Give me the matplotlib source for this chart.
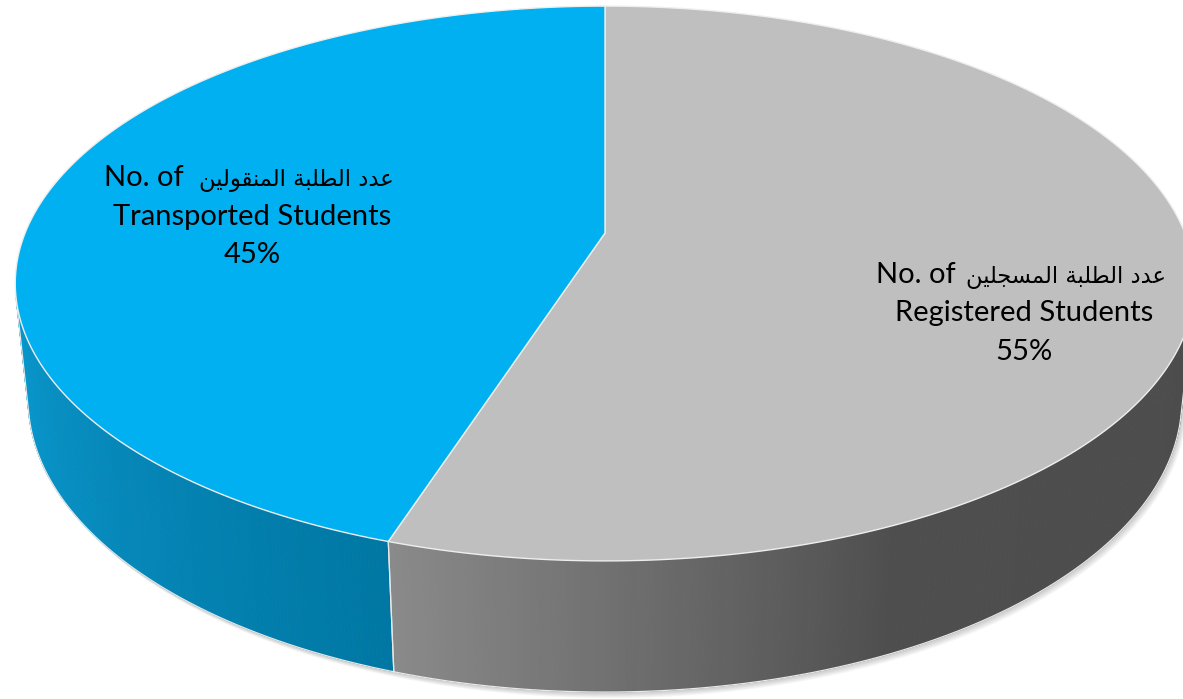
import numpy as np
import matplotlib.pyplot as plt
from matplotlib.collections import PolyCollection
from matplotlib.colors import to_rgb

# data (Excel starts at 12 o'clock and goes clockwise)
categories = ['Registered Students', 'Transported Students']
arabic_names = [['عدد', 'الطلبة', 'المسجلين'], ['عدد', 'الطلبة', 'المنقولين']]
values = [55, 45]
top_colors = ['#BFBFBF', '#00B0F0']
# wall gradient stops, left to right on screen: (fraction, colour)
wall_colors = [[(0.0, '#8A8A8A'), (0.45, '#4E4E4E'), (1.0, '#4C4C4C')],
               [(0.0, '#0A98CE'), (1.0, '#0077A3')]]
# label centre x and first baseline y, in pixels
label_pos = [(1024, 283), (252, 186)]

# presentation forms: isolated, final, initial, medial
FORMS = {
    'ع': ('\uFEC9', '\uFECA', '\uFECB', '\uFECC'),
    'د': ('\uFEA9', '\uFEAA', None, None),
    'ا': ('\uFE8D', '\uFE8E', None, None),
    'ل': ('\uFEDD', '\uFEDE', '\uFEDF', '\uFEE0'),
    'ط': ('\uFEC1', '\uFEC2', '\uFEC3', '\uFEC4'),
    'ب': ('\uFE8F', '\uFE90', '\uFE91', '\uFE92'),
    'ة': ('\uFE93', '\uFE94', None, None),
    'م': ('\uFEE1', '\uFEE2', '\uFEE3', '\uFEE4'),
    'ن': ('\uFEE5', '\uFEE6', '\uFEE7', '\uFEE8'),
    'ق': ('\uFED5', '\uFED6', '\uFED7', '\uFED8'),
    'و': ('\uFEED', '\uFEEE', None, None),
    'ي': ('\uFEF1', '\uFEF2', '\uFEF3', '\uFEF4'),
    'س': ('\uFEB1', '\uFEB2', '\uFEB3', '\uFEB4'),
    'ج': ('\uFE9D', '\uFE9E', '\uFE9F', '\uFEA0'),
}


def shape_word(word):
    """Joins the letters of one arabic word and returns it in visual order."""
    out = []
    for i, ch in enumerate(word):
        prev_joins = i > 0 and FORMS[word[i - 1]][2] is not None
        next_joins = i < len(word) - 1 and FORMS[ch][2] is not None
        if prev_joins and next_joins:
            out.append(FORMS[ch][3])
        elif prev_joins:
            out.append(FORMS[ch][1])
        elif next_joins:
            out.append(FORMS[ch][2])
        else:
            out.append(FORMS[ch][0])
    return ''.join(out)[::-1]


def arabic_line(words):
    return ' '.join(shape_word(w) for w in reversed(words))


# perspective camera (pixel space)
cx, cy = 605, 233
s = np.sin(np.radians(27.55))
c = np.cos(np.radians(27.55))
D = 4.87
f = 2824
H = 0.228


def proj(t, z):
    x, y = np.cos(t), np.sin(t)
    dist = D + y * c - z * s
    return cx + f * x / dist, cy - f * (y * s + z * c) / dist


def center(z):
    dist = D - z * s
    return cx, cy - f * (z * c) / dist


fig = plt.figure(figsize=(11.83, 6.99), dpi=100)
ax = fig.add_axes([0, 0, 1, 1])
ax.set_xlim(0, 1183)
ax.set_ylim(699, 0)
ax.axis('off')

# soft shadow under the pie
tt = np.linspace(0, 2 * np.pi, 400)
bx, by = proj(tt, -H)
for k in range(1, 7):
    ax.fill(bx + 0.8 * k, by + 1.0 * k, color='#000000', alpha=0.035, lw=0,
            zorder=1)

# slice angles, clockwise from 90 degrees
fracs = np.array(values) / sum(values)
starts = np.radians(90) - 2 * np.pi * np.concatenate([[0], np.cumsum(fracs)[:-1]])
ends = starts - 2 * np.pi * fracs

vis_lo = np.pi + np.arcsin(1 / (D * c))
vis_hi = 2 * np.pi - np.arcsin(1 / (D * c))

for i in range(len(values)):
    a0, a1 = ends[i] % (2 * np.pi), starts[i] % (2 * np.pi)
    if a1 <= a0:
        a1 += 2 * np.pi
    # visible part of the outer wall
    w0, w1 = max(a0, vis_lo), min(a1, vis_hi)
    if w1 > w0:
        ts = np.linspace(w0, w1, 160)
        tx, ty = proj(ts, 0)
        lx, ly = proj(ts, -H)
        stops = wall_colors[i]
        pos = [p for p, _ in stops]
        rgb = np.array([to_rgb(col) for _, col in stops])
        polys, cols = [], []
        for j in range(len(ts) - 1):
            polys.append([(tx[j], ty[j]), (tx[j + 1], ty[j + 1]),
                          (lx[j + 1], ly[j + 1]), (lx[j], ly[j])])
            # screen left to right goes with increasing angle here
            u = (ts[j] - w0) / (w1 - w0)
            cols.append([np.interp(u, pos, rgb[:, k]) for k in range(3)])
        ax.add_collection(PolyCollection(polys, facecolors=cols,
                                         edgecolors=cols, linewidths=0.6,
                                         zorder=2))
        ax.plot(lx, ly, color='#E8E8E8', lw=0.9, zorder=3)
        ax.plot([lx[0], tx[0]], [ly[0], ty[0]], color='#E8E8E8', lw=0.9,
                zorder=3)
        ax.plot([lx[-1], tx[-1]], [ly[-1], ty[-1]], color='#E8E8E8', lw=0.9,
                zorder=3)

    # top face
    ts = np.linspace(a0, a1, 300)
    tx, ty = proj(ts, 0)
    px, py = center(0)
    ax.fill(np.concatenate([[px], tx]), np.concatenate([[py], ty]),
            facecolor=top_colors[i], edgecolor='#EEEEEE', lw=1.0, zorder=4)

# labels: english part in Lato, arabic part in DejaVu Sans
for i in range(len(values)):
    lx0, ly0 = label_pos[i]
    ax.text(lx0 - 148, ly0, 'No. of', ha='left', va='baseline',
            fontsize=21, family='Lato', zorder=5)
    ax.text(lx0 + 142, ly0, arabic_line(arabic_names[i]), ha='right',
            va='baseline', fontsize=16.3, family='DejaVu Sans', zorder=5)
    ax.text(lx0, ly0 + 38.5, categories[i], ha='center', va='baseline',
            fontsize=21, family='Lato', zorder=5)
    ax.text(lx0, ly0 + 77, f'{values[i]}%', ha='center', va='baseline',
            fontsize=21, family='Lato', zorder=5)

fig.savefig('out.png', dpi=100)
